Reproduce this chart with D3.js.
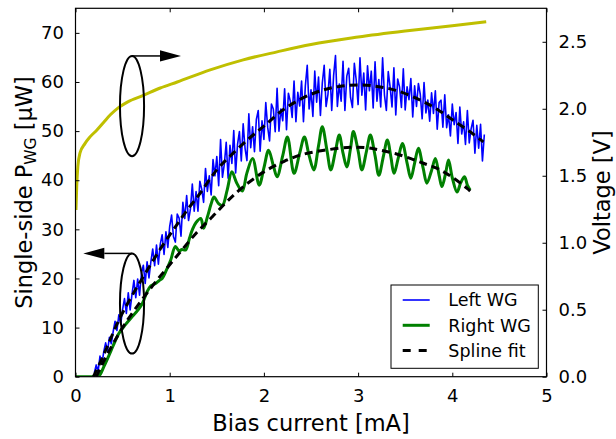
<!DOCTYPE html>
<html><head><meta charset="utf-8">
<script src="https://cdn.jsdelivr.net/npm/d3@7"></script>
<style>
body{margin:0;background:#fff;}
svg{display:block;font-family:"DejaVu Sans",sans-serif;}
</style></head>
<body>
<svg id="chart" width="616" height="439"></svg>
<script>
// ---------------- data ----------------
const xTicks = [0, 1, 2, 3, 4, 5];
const leftTicks = [0, 10, 20, 30, 40, 50, 60, 70];
const rightTicks = [0.0, 0.5, 1.0, 1.5, 2.0, 2.5];
const legendLabels = ["Left WG", "Right WG", "Spline fit"];

// Left WG (sampled every 0.02 mA starting at 0.20 mA), µW
const leftStart = 0.20, leftStep = 0.02;
const leftWG = [
0.8,2.4,1.1,4.2,2.5,5.1,6.9,5.2,8.0,6.7,9.2,11.3,9.4,12.6,10.7,
13.7,15.9,12.9,17.1,13.6,16.8,19.6,16.1,19.9,16.6,21.0,22.7,19.0,23.4,20.1,
23.4,26.0,22.6,26.8,22.9,27.0,28.9,24.9,29.5,26.3,
30.6,32.9,28.5,27.4,33.1,32.3,28.6,35.5,32.2,36.9,31.8,34.1,39.2,33.7,37.7,
33.7,39.8,38.2,35.5,42.4,37.7,40.9,37.0,44.2,40.9,
44.8,38.9,48.3,40.6,43.3,47.7,40.4,47.1,43.4,50.1,41.5,47.3,49.9,43.9,51.5,
46.5,44.0,53.5,46.6,50.9,45.8,52.4,54.2,45.9,52.1,48.3,55.8,50.8,48.0,55.5,
54.5,49.9,58.7,50.0,54.5,52.1,58.6,50.3,57.7,56.1,52.8,60.2,51.9,57.9,55.1,
60.2,51.9,59.2,63.4,54.5,
58.4,53.0,62.2,55.9,61.0,53.2,59.8,63.4,55.0,57.5,62.6,54.2,61.3,65.4,55.0,
59.6,56.1,64.2,54.2,61.2,62.8,56.8,54.8,63.8,60.4,55.4,64.9,57.3,61.8,54.3,
63.3,58.2,62.2,54.7,64.1,56.1,60.5,54.9,64.9,57.3,54.2,62.1,59.0,54.9,62.9,
53.3,60.6,59.0,54.8,62.7,
54.3,59.0,56.4,60.7,52.9,59.2,55.0,59.7,57.5,52.5,59.9,53.7,56.3,52.0,57.8,
53.6,58.2,50.4,55.8,56.3,50.8,57.4,50.7,53.3,49.0,55.5,51.3,53.8,47.5,54.9,
49.4,51.9,47.3,54.2,47.6,50.5,52.2,45.5,51.2,46.5,51.4,43.9,49.3];

// Right WG: current (mA) and power (µW)
const rightX = [0.00,0.10,0.20,0.25,0.30,0.35,0.40,0.46,0.53,0.60,0.66,0.71,0.76,0.80,0.85,0.89,0.92,0.96,1.01,1.06,
1.10,1.13,1.17,1.21,1.24,1.28,1.33,1.36,1.40,1.44,1.47,1.52,1.56,1.61,1.66,1.71,1.77,1.82,1.88,1.95,
2.00,2.05,2.10,2.14,2.20,2.25,2.32,2.38,2.43,2.48,2.53,2.58,2.62,2.67,2.71,2.76,2.80,2.84,2.88,2.92,
2.95,3.00,3.04,3.09,3.13,3.18,3.22,3.27,3.31,3.35,3.38,3.43,3.47,3.52,3.56,3.60,3.64,3.69,3.73,3.78,
3.82,3.86,3.89,3.93,3.96,4.00,4.05,4.09,4.13,4.16,4.19];
const rightWG = [0,0,0,0.2,2.0,4.1,6.3,8.8,10.6,12.2,13.5,14.9,17.3,18.5,19.0,19.6,20.0,21.5,23.7,26.5,
25.6,25.9,25.8,28.2,29.9,31.4,32.2,30.2,32.5,35.2,36.6,35.2,34.9,38.0,41.7,39.5,37.8,41.5,44.4,39.0,
42.5,46.1,43.0,40.7,45.0,48.8,41.4,45.5,48.8,45.0,42.1,47.0,50.9,46.0,42.1,46.0,49.2,45.5,42.7,46.5,
49.9,46.0,42.1,46.0,49.2,45.0,41.0,45.0,48.2,44.5,41.4,44.8,47.5,43.5,40.4,43.5,46.5,42.5,39.4,42.0,
44.4,41.0,38.7,41.5,44.1,40.5,37.6,39.5,40.7,39.0,38.0];

// Spline fits
const fitLeftX = [0.19,0.30,0.46,0.60,0.74,0.90,1.06,1.20,1.31,1.50,1.70,1.86,2.00,2.20,2.40,2.60,2.80,3.00,3.20,3.40,3.66,3.85,4.01,4.20,4.33];
const fitLeftY = [0,4.5,11.5,16.5,21.0,26.0,30.5,34.3,37.0,42.1,46.0,48.8,51.0,54.3,56.6,58.2,59.1,59.4,59.1,58.3,56.3,54.3,52.2,49.7,47.8];
const fitRightX = [0.22,0.35,0.53,0.81,1.00,1.13,1.29,1.45,1.60,1.77,2.00,2.21,2.40,2.64,2.92,3.10,3.24,3.40,3.56,3.70,3.84,4.00,4.16,4.19];
const fitRightY = [0,5.0,10.9,18.3,22.8,25.8,29.4,32.5,35.5,38.5,41.7,43.8,45.2,46.1,46.7,46.6,46.1,45.4,44.4,43.4,42.4,40.6,38.3,37.8];

// Voltage (right axis): current (mA), voltage (V)
const voltX = [0.005,0.013,0.025,0.048,0.10,0.154,0.225,0.30,0.37,0.45,0.55,0.72,0.90,1.08,1.43,1.78,2.14,2.50,3.00,3.50,4.00,4.36];
const voltY = [1.245,1.42,1.57,1.67,1.74,1.79,1.84,1.90,1.955,2.005,2.05,2.10,2.155,2.20,2.29,2.365,2.425,2.48,2.535,2.58,2.62,2.65];

// Annotation ellipses (data units: mA, µW) and arrow tips
const ellipseCentersX = [0.60, 0.60];
const ellipseCentersY = [55.1, 14.9];
const ellipseRadX = 0.128, ellipseRadY = 10.2;
const arrowTipX = [1.12, 0.083];

// ---------------- layout ----------------
const L = 75.5, R = 546.5, T = 8.3, B = 376.7;
const svg = d3.select("#chart");
const x = d3.scaleLinear().domain([0, 5]).range([L, R]);
const yL = d3.scaleLinear().domain([0, 75]).range([B, T]);
const yR = d3.scaleLinear().domain([0, 2.75]).range([B, T]);

svg.append("defs").append("clipPath").attr("id", "clip")
  .append("rect").attr("x", L).attr("y", T).attr("width", R - L).attr("height", B - T);

const plot = svg.append("g").attr("clip-path", "url(#clip)");

// Left WG
const leftPts = leftWG.map((v, i) => [leftStart + i * leftStep, v]);
plot.append("path").datum(leftPts)
  .attr("fill", "none").attr("stroke", "#0000ff").attr("stroke-width", 1.6)
  .attr("stroke-linejoin", "round")
  .attr("d", d3.line().x(d => x(d[0])).y(d => yL(d[1])));

// Right WG
const rightPts = rightX.map((v, i) => [v, rightWG[i]]);
plot.append("path").datum(rightPts)
  .attr("fill", "none").attr("stroke", "#008000").attr("stroke-width", 3)
  .attr("stroke-linejoin", "round")
  .attr("d", d3.line().curve(d3.curveCatmullRom).x(d => x(d[0])).y(d => yL(d[1])));

// Spline fits
[[fitLeftX, fitLeftY], [fitRightX, fitRightY]].forEach(([fx, fy]) => {
  plot.append("path").datum(fx.map((v, i) => [v, fy[i]]))
    .attr("fill", "none").attr("stroke", "#000").attr("stroke-width", 3)
    .attr("stroke-dasharray", "8,5")
    .attr("d", d3.line().curve(d3.curveCatmullRom).x(d => x(d[0])).y(d => yL(d[1])));
});

// Voltage
plot.append("path").datum(voltX.map((v, i) => [v, voltY[i]]))
  .attr("fill", "none").attr("stroke", "#bfbf00").attr("stroke-width", 3)
  .attr("d", d3.line().curve(d3.curveMonotoneX).x(d => x(d[0])).y(d => yR(d[1])));

// Annotations
const ann = svg.append("g");
ellipseCentersX.forEach((cx, i) => {
  const cy = ellipseCentersY[i];
  ann.append("ellipse")
    .attr("cx", x(cx)).attr("cy", yL(cy))
    .attr("rx", x(ellipseRadX) - x(0)).attr("ry", yL(0) - yL(ellipseRadY))
    .attr("fill", "none").attr("stroke", "#000").attr("stroke-width", 2);
  const sx = x(cx), sy = yL(cy + ellipseRadY), tx = x(arrowTipX[i]);
  const dir = tx > sx ? 1 : -1;
  const headLen = 21, headHalf = 5.6;
  ann.append("line").attr("x1", sx).attr("y1", sy).attr("x2", tx - dir * headLen).attr("y2", sy)
    .attr("stroke", "#000").attr("stroke-width", 1.5);
  ann.append("path")
    .attr("d", `M${tx},${sy} L${tx - dir * headLen},${sy - headHalf} L${tx - dir * headLen},${sy + headHalf} Z`)
    .attr("fill", "#000");
});

// Axes
const tickFont = 18;
const gB = svg.append("g").attr("transform", `translate(0,${B})`)
  .call(d3.axisBottom(x).tickValues(xTicks).tickFormat(d3.format("d")).tickSizeInner(-4).tickSizeOuter(0).tickPadding(13));
const gT = svg.append("g").attr("transform", `translate(0,${T})`)
  .call(d3.axisTop(x).tickValues(xTicks).tickFormat("").tickSizeInner(-4).tickSizeOuter(0));
const gL = svg.append("g").attr("transform", `translate(${L},0)`)
  .call(d3.axisLeft(yL).tickValues(leftTicks).tickFormat(d3.format("d")).tickSizeInner(-4).tickSizeOuter(0).tickPadding(11.5));
const gR = svg.append("g").attr("transform", `translate(${R},0)`)
  .call(d3.axisRight(yR).tickValues(rightTicks).tickFormat(d3.format(".1f")).tickSizeInner(-4).tickSizeOuter(0).tickPadding(12));
[gB, gT, gL, gR].forEach(g => {
  g.select(".domain").remove();
  g.selectAll(".tick line").attr("stroke", "#000").attr("stroke-width", 1);
  g.selectAll(".tick text").attr("fill", "#000").style("font-size", tickFont + "px").style("font-family", "DejaVu Sans");
});

svg.append("rect").attr("x", L).attr("y", T).attr("width", R - L).attr("height", B - T)
  .attr("fill", "none").attr("stroke", "#000").attr("stroke-width", 1.2);

// Axis titles
const titleFont = 22.5;
svg.append("text").attr("x", (L + R) / 2).attr("y", 430.5)
  .attr("text-anchor", "middle").style("font-size", titleFont + "px").text("Bias current [mA]");

const lt = svg.append("text").attr("transform", `translate(32,${(T + B) / 2}) rotate(-90)`)
  .attr("text-anchor", "middle").style("font-size", titleFont + "px");
lt.append("tspan").text("Single-side P");
lt.append("tspan").attr("dy", 4).style("font-size", "15.5px").text("WG");
lt.append("tspan").attr("dy", -4).text(" [μW]");

svg.append("text").attr("transform", `translate(610,${(T + B) / 2}) rotate(-90)`)
  .attr("text-anchor", "middle").style("font-size", titleFont + "px").text("Voltage [V]");

// Legend
const lg = svg.append("g");
lg.append("rect").attr("x", 391).attr("y", 285).attr("width", 147.3).attr("height", 83.3)
  .attr("fill", "#fff").attr("stroke", "#000").attr("stroke-width", 1);
const legStyles = [
  {c: "#0000ff", w: 1.6, dash: null},
  {c: "#008000", w: 3, dash: null},
  {c: "#000", w: 3, dash: "8,8"}
];
legendLabels.forEach((lab, i) => {
  const yy = 300 + i * 25.3;
  lg.append("line").attr("x1", 402.7).attr("x2", 429.7).attr("y1", yy).attr("y2", yy)
    .attr("stroke", legStyles[i].c).attr("stroke-width", legStyles[i].w)
    .attr("stroke-dasharray", legStyles[i].dash);
  lg.append("text").attr("x", 448.3).attr("y", yy).attr("dy", "0.36em")
    .style("font-size", "17.5px").text(lab);
});
</script>
</body></html>
